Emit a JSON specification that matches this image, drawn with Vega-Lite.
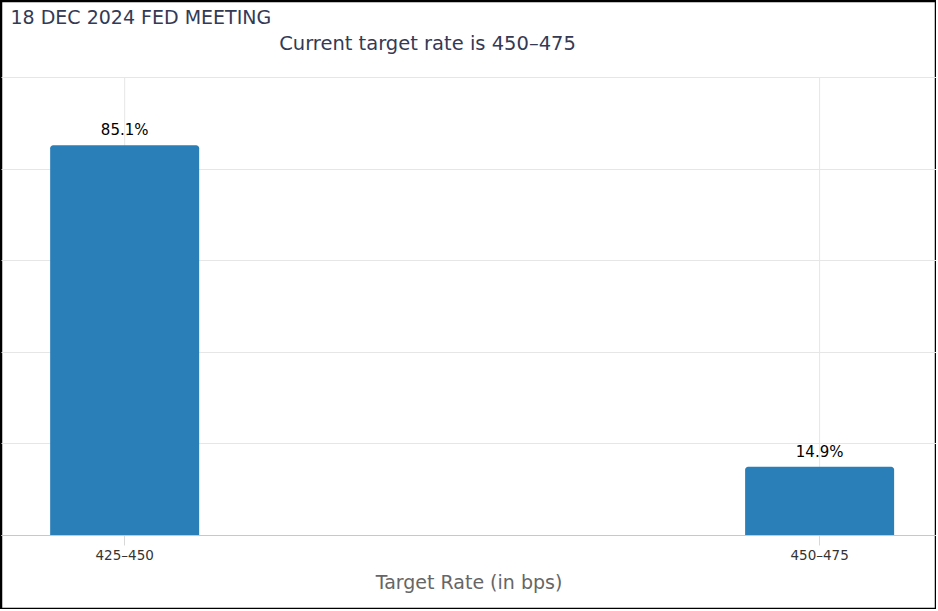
{
  "$schema": "https://vega.github.io/schema/vega-lite/v6.json",
  "width": 935,
  "height": 608,
  "autosize": {"type": "none"},
  "padding": {"left": 1, "top": 1, "right": 0, "bottom": 0},
  "background": "white",
  "config": {
    "view": {"stroke": "black", "strokeWidth": 2.5},
    "font": "DejaVu Sans"
  },
  "title": {
    "text": "Current target rate is 450–475",
    "anchor": "middle",
    "frame": "group",
    "offset": -53,
    "dx": -41,
    "fontSize": 19.5,
    "fontWeight": "normal",
    "color": "#333a56",
    "font": "DejaVu Sans"
  },
  "data": {
    "values": [
      {"rate": "425–450", "prob": 85.1, "label": "85.1%"},
      {"rate": "450–475", "prob": 14.9, "label": "14.9%"}
    ]
  },
  "encoding": {
    "x": {
      "field": "rate",
      "type": "nominal",
      "sort": null,
      "scale": {"paddingInner": 0.7856, "paddingOuter": 0.0655, "align": 0.54},
      "axis": {
        "orient": "bottom",
        "offset": -74,
        "bandPosition": 0.5,
        "grid": false,
        "domainColor": "#c8c8c8",
        "domainWidth": 1,
        "ticks": true,
        "tickColor": "#d8d8d8",
        "tickSize": 10,
        "labelFontSize": 13.5,
        "labelColor": "#333333",
        "labelPadding": 3,
        "labelAngle": 0,
        "title": "Target Rate (in bps)",
        "titleFontSize": 19,
        "titleFontWeight": "normal",
        "titleColor": "#666666",
        "titlePadding": 12
      }
    },
    "y": {
      "field": "prob",
      "type": "quantitative",
      "scale": {"domain": [-16.16, 116.59], "nice": false, "zero": false},
      "axis": {
        "values": [0, 20, 40, 60, 80, 100],
        "grid": true,
        "gridColor": "#e6e6e6",
        "domain": false,
        "ticks": false,
        "labels": false,
        "title": "18 DEC 2024 FED MEETING",
        "titleAngle": 0,
        "titleAlign": "left",
        "titleBaseline": "alphabetic",
        "titleX": 9,
        "titleY": 22,
        "titleFontSize": 19,
        "titleFontWeight": "normal",
        "titleColor": "#333a56",
        "titleFont": "DejaVu Sans"
      }
    }
  },
  "layer": [
    {
      "mark": {"type": "rule", "color": "#e6e6e6", "strokeWidth": 1},
      "encoding": {
        "y": {"datum": 0},
        "y2": {"datum": 100}
      }
    },
    {
      "mark": {"type": "bar", "color": "#2a7fb8", "cornerRadiusTopLeft": 3, "cornerRadiusTopRight": 3},
      "encoding": {
        "y2": {"datum": 0}
      }
    },
    {
      "mark": {"type": "text", "baseline": "alphabetic", "dy": -10, "fontSize": 15, "color": "#000000"},
      "encoding": {
        "text": {"field": "label"}
      }
    }
  ]
}
